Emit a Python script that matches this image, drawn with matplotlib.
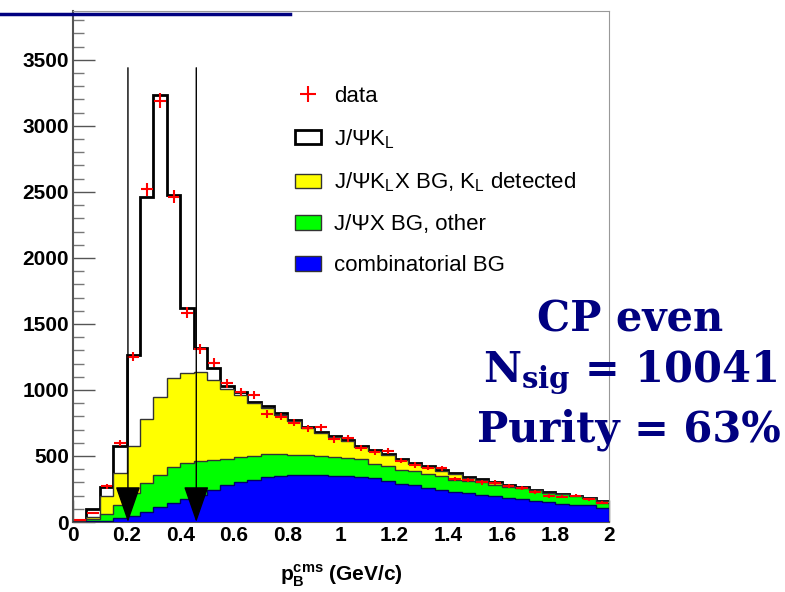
import numpy as np
import matplotlib
matplotlib.use("Agg")
import matplotlib.pyplot as plt
from matplotlib.patches import Patch
from matplotlib.lines import Line2D

# p_B^cms histogram, 40 bins of 0.05 GeV/c from 0 to 2
bin_edges = np.linspace(0.0, 2.0, 41)

# cumulative stack tops
total = [15, 98, 265, 576, 1265, 2465, 3235, 2477, 1621, 1320,
         1166, 1030, 985, 910, 875, 823, 773, 722, 684, 652,
         621, 576, 545, 515, 480, 449, 424, 394, 369, 343,
         323, 303, 283, 263, 242, 225, 210, 197, 179, 162]
kl_detected = [5, 40, 197, 371, 576, 780, 950, 1090, 1131, 1139,
               1076, 1010, 960, 900, 860, 812, 762, 714, 674, 642,
               610, 568, 537, 505, 470, 440, 415, 386, 360, 335,
               315, 295, 276, 256, 236, 218, 204, 190, 173, 157]
other_bg = [5, 20, 60, 129, 219, 295, 356, 419, 449, 465,
            470, 480, 492, 500, 512, 515, 510, 505, 498, 490,
            485, 480, 440, 425, 395, 385, 365, 345, 318, 312,
            300, 280, 268, 255, 240, 222, 210, 195, 178, 141]
combinatorial = [3, 5, 10, 30, 45, 78, 116, 141, 173, 204,
                 242, 280, 300, 318, 340, 350, 356, 358, 358, 352,
                 345, 340, 330, 313, 290, 280, 258, 245, 225, 218,
                 205, 195, 180, 172, 162, 155, 140, 132, 125, 104]
data = [12, 70, 270, 600, 1252, 2520, 3192, 2465, 1586, 1310,
        1207, 1050, 987, 962, 818, 798, 752, 710, 717, 626,
        634, 558, 533, 538, 465, 432, 412, 407, 326, 318,
        301, 298, 273, 255, 230, 197, 192, 200, 172, 146]

# signal window cuts
cuts = [0.205, 0.46]

legend_labels = ["data",
                 "J/\u03a8K$_\\mathregular{L}$",
                 "J/\u03a8K$_\\mathregular{L}$X BG, K$_\\mathregular{L}$ detected",
                 "J/\u03a8X BG, other",
                 "combinatorial BG"]

plt.rcParams['font.family'] = ['Liberation Sans', 'DejaVu Sans']

fig = plt.figure(figsize=(7.85, 5.92), dpi=100)
ax = fig.add_axes([73 / 785, 1 - 522 / 592, (609 - 73) / 785, (522 - 11) / 592])

edge_col = '#333333'
ax.stairs(total, bin_edges, fill=True, facecolor='white', edgecolor='black', linewidth=2, zorder=2)
ax.stairs(kl_detected, bin_edges, fill=True, facecolor='#ffff00', edgecolor=edge_col, linewidth=1, zorder=3)
ax.stairs(other_bg, bin_edges, fill=True, facecolor='#00ff00', edgecolor=edge_col, linewidth=1, zorder=4)
ax.stairs(combinatorial, bin_edges, fill=True, facecolor='#0000ff', edgecolor='#000066', linewidth=1, zorder=5)

centers = 0.5 * (bin_edges[:-1] + bin_edges[1:])
ax.errorbar(centers, data, xerr=0.022, yerr=np.sqrt(data), fmt='none',
            ecolor='red', elinewidth=1.5, capsize=0, zorder=6)

for c in cuts:
    ax.annotate('', xy=(c, 0), xytext=(c, 3440),
                arrowprops=dict(arrowstyle='-|>,head_length=2.3,head_width=0.8',
                                color='black', lw=1, shrinkA=0, shrinkB=0),
                zorder=7)

ax.set_xlim(0, 2)
ax.set_ylim(0, 3870)
ax.set_xticks(np.arange(0, 2.01, 0.2))
ax.set_xticklabels(['0', '0.2', '0.4', '0.6', '0.8', '1', '1.2', '1.4', '1.6', '1.8', '2'])
ax.set_xticks(np.arange(0, 2.01, 0.05), minor=True)
ax.set_yticks(np.arange(0, 3501, 500))
ax.set_yticks(np.arange(0, 3801, 100), minor=True)
ax.tick_params(axis='both', which='major', direction='in', length=16, width=1,
               color='#555555', labelsize=15, pad=3)
ax.tick_params(axis='both', which='minor', direction='in', length=8, width=1, color='#777777')
for lab in ax.get_xticklabels() + ax.get_yticklabels():
    lab.set_fontweight('bold')
for side in ['top', 'right']:
    ax.spines[side].set_color('#999999')
for side in ['left', 'bottom']:
    ax.spines[side].set_color('#555555')
    ax.spines[side].set_linewidth(1.5)

ax.set_xlabel('p$_\\mathregular{B}^\\mathregular{cms}$ (GeV/c)', fontsize=15,
              fontweight='bold', labelpad=12)

handles = [Line2D([], [], color='red', marker='+', linestyle='none', markersize=11, markeredgewidth=1.5),
           Patch(facecolor='white', edgecolor='black', linewidth=2),
           Patch(facecolor='#ffff00', edgecolor=edge_col),
           Patch(facecolor='#00ff00', edgecolor=edge_col),
           Patch(facecolor='#0000ff', edgecolor=edge_col)]
ax.legend(handles, legend_labels, loc='upper left', bbox_to_anchor=(295 / 785, 1 - 86 / 592),
          bbox_transform=fig.transFigure, frameon=False, fontsize=16,
          handlelength=1.17, handleheight=0.63, handletextpad=0.59, labelspacing=0.9,
          borderpad=0, borderaxespad=0)

txt = dict(ha='center', va='center', fontsize=30, fontweight='bold',
           family='DejaVu Serif', color='#000080')
fig.text(630 / 785, 1 - 320 / 592, 'CP even', **txt)
fig.text(630 / 785, 1 - 372 / 592, 'N$_\\mathregular{sig}$ = 10041', **txt)
fig.text(629 / 785, 1 - 430 / 592, 'Purity = 63%', **txt)

# underline of the slide title cut off at the top
fig.add_artist(Line2D([0, 290 / 785], [1 - 14 / 592, 1 - 14 / 592], color='#000080', lw=2.5))

fig.savefig('out.png', dpi=100)
